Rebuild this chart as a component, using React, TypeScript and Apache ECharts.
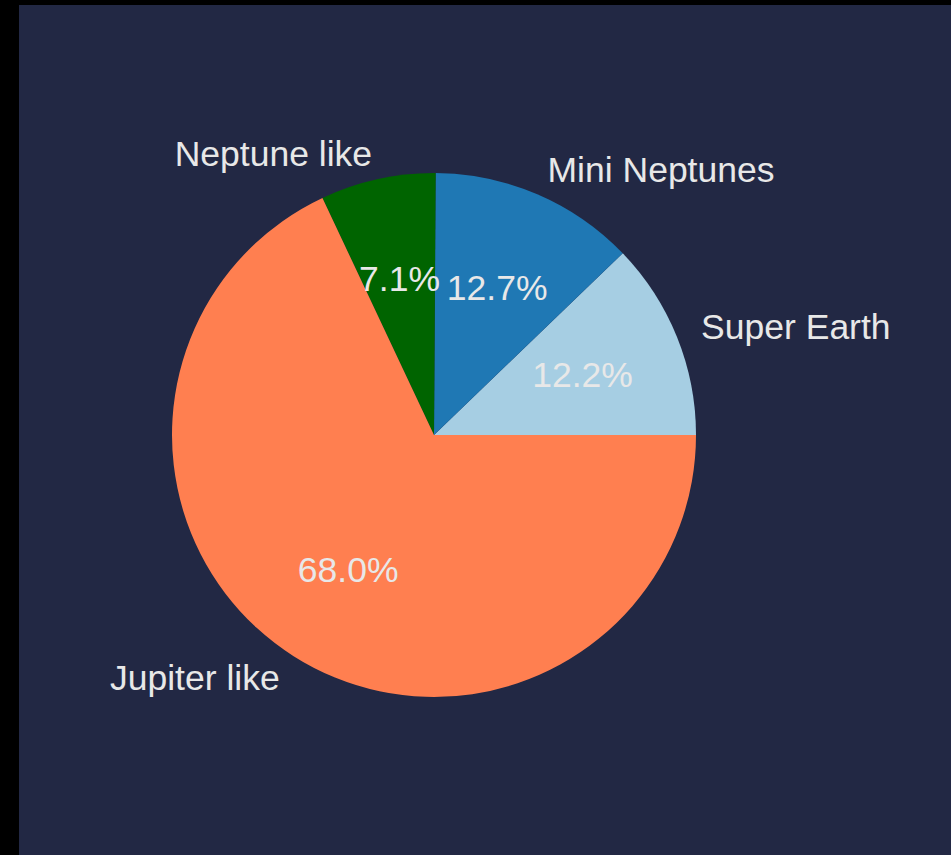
import React, { useEffect, useRef } from "react";
import * as echarts from "echarts";

const categories = ["Super Earth", "Mini Neptunes", "Neptune like", "Jupiter like"];
const shares = [12.2, 12.7, 7.1, 68.0];
const colors = ["#a6cee3", "#1f78b4", "#006400", "#ff7f50"];

export default function App() {
  const ref = useRef<HTMLDivElement>(null);
  useEffect(() => {
    document.body.style.margin = "0";
    document.body.style.background = "#000000";
    const chart = echarts.init(ref.current!, null, { renderer: "svg" });
    const data = categories.map((name, i) => ({
      name,
      value: shares[i],
      itemStyle: { color: colors[i] },
    }));
    const R = 262;
    const font = "'Liberation Sans', Arial, sans-serif";
    chart.setOption({
      animation: false,
      backgroundColor: "#222844",
      series: [
        {
          type: "pie",
          center: [415, 430],
          radius: [0, R],
          startAngle: 0,
          clockwise: false,
          avoidLabelOverlap: false,
          silent: true,
          data,
          itemStyle: { borderWidth: 0 },
          label: {
            show: true,
            position: "outside",
            formatter: "{b}",
            color: "#e8e8e8",
            fontSize: 35.5,
            fontFamily: font,
            distanceToLabelLine: 0,
          },
          labelLine: { show: false, length: 26, length2: 0 },
          emphasis: { disabled: true },
        },
        {
          type: "pie",
          center: [415, 430],
          radius: [0.2 * R, R],
          startAngle: 0,
          clockwise: false,
          avoidLabelOverlap: false,
          silent: true,
          data: categories.map((name, i) => ({
            name,
            value: shares[i],
            itemStyle: { color: "rgba(0,0,0,0)" },
          })),
          itemStyle: { borderWidth: 0 },
          label: {
            show: true,
            position: "inside",
            formatter: (p: any) => p.value.toFixed(1) + "%",
            color: "#e8e8e8",
            fontSize: 35.5,
            fontFamily: font,
          },
          labelLine: { show: false },
          emphasis: { disabled: true },
        },
      ],
    });
    return () => chart.dispose();
  }, []);
  return (
    <div style={{ position: "absolute", left: 0, top: 0, width: 951, height: 855, background: "#000" }}>
      <div ref={ref} style={{ position: "absolute", left: 19, top: 5, width: 932, height: 850 }} />
    </div>
  );
}
